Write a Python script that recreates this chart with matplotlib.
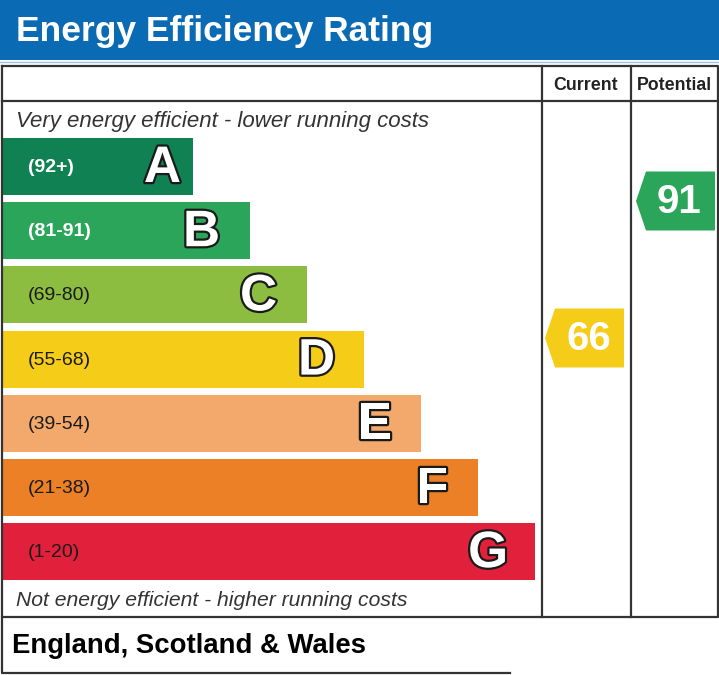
import matplotlib
matplotlib.use("Agg")
import matplotlib.pyplot as plt
from matplotlib.patches import Rectangle, Polygon
import matplotlib.patheffects as pe

# Data
bands = ['A', 'B', 'C', 'D', 'E', 'F', 'G']
band_ranges = ['(92+)', '(81-91)', '(69-80)', '(55-68)', '(39-54)', '(21-38)', '(1-20)']
band_colors = ['#0f8153', '#2aa55a', '#8dbd40', '#f5cc17', '#f2a96b', '#ec8026', '#e1213c']
range_text_colors = ['white', 'white', '#1a1a1a', '#1a1a1a', '#1a1a1a', '#1a1a1a', '#1a1a1a']
current_rating = 66
potential_rating = 91
current_color = '#f5cc17'
potential_color = '#2aa55a'

title = 'Energy Efficiency Rating'
top_note = 'Very energy efficient - lower running costs'
bottom_note = 'Not energy efficient - higher running costs'
region = 'England, Scotland & Wales'

# Figure in pixel coordinates
fig = plt.figure(figsize=(7.19, 6.75), dpi=100)
ax = fig.add_axes([0, 0, 1, 1])
ax.set_xlim(0, 719)
ax.set_ylim(675, 0)
ax.axis('off')

line_c = '#333333'
lw = 1.6

# Header bar
ax.add_patch(Rectangle((0, 0), 719, 60, color='#0a6ab3', lw=0))
ax.plot([0, 719], [61.5, 61.5], color='#9cc3e4', lw=1)
ax.text(16, 31, title, color='white', fontsize=25.5, fontweight='bold',
        family='Liberation Sans', va='center', ha='left')

# Main box and grid lines
ax.plot([1.5, 717.5, 717.5, 1.5, 1.5], [66, 66, 617, 617, 66], color=line_c, lw=lw)
ax.plot([1.5, 717.5], [101, 101], color=line_c, lw=lw)
ax.plot([542, 542], [66, 617], color=line_c, lw=lw)
ax.plot([630.5, 630.5], [66, 617], color=line_c, lw=lw)

# Footer
ax.plot([1.5, 1.5, 510], [617, 673, 673], color=line_c, lw=lw)
ax.text(12, 646, region, fontsize=19.8, fontweight='bold', family='Liberation Sans',
        va='center', ha='left', color='black')

# Column headers
ax.text(586, 85, 'Current', fontsize=12.8, fontweight='bold', family='Liberation Sans',
        ha='center', va='center', color='#222222')
ax.text(674, 85, 'Potential', fontsize=12.8, fontweight='bold', family='Liberation Sans',
        ha='center', va='center', color='#222222')

# Notes
ax.text(16, 121, top_note, fontsize=16, style='italic', family='Liberation Sans',
        ha='left', va='center', color='#333333')
ax.text(16, 601, bottom_note, fontsize=15.2, style='italic', family='Liberation Sans',
        ha='left', va='center', color='#333333')

# Bands
bar_top0 = 138
bar_pitch = 64.2
bar_h = 57
letter_gap = [12, 30, 30, 29, 29, 30, 27]
for i, (b, r, c, tc) in enumerate(zip(bands, band_ranges, band_colors, range_text_colors)):
    y0 = bar_top0 + i * bar_pitch
    right = 193 + i * 57
    ax.add_patch(Rectangle((2, y0), right - 2, bar_h, color=c, lw=0))
    ax.text(28, y0 + bar_h / 2 + 1, r, fontsize=14, fontweight='bold' if i < 2 else 'normal',
            family='Liberation Sans', ha='left', va='center', color=tc)
    t = ax.text(right - letter_gap[i], y0 + bar_h / 2 + 2, b, fontsize=37, fontweight='bold',
                family='Liberation Sans', ha='right', va='center', color='white')
    t.set_path_effects([pe.Stroke(linewidth=3.2, foreground='#1a1a1a'), pe.Normal()])


def rating_y(v):
    # vertical centre of the rating arrow
    return 201 + (91 - v) * 5.48


def arrow(x0, x1, v, color):
    yc = rating_y(v)
    h = 59
    pts = [(x0, yc), (x0 + 10, yc - h / 2), (x1, yc - h / 2), (x1, yc + h / 2), (x0 + 10, yc + h / 2)]
    ax.add_patch(Polygon(pts, closed=True, color=color, lw=0))
    ax.text((x0 + 8 + x1) / 2, yc + 1, str(v), fontsize=29, fontweight='bold',
            family='Liberation Sans', ha='center', va='center', color='white')


arrow(545, 624, current_rating, current_color)
arrow(636, 715, potential_rating, potential_color)

fig.savefig('out.png', dpi=100)
